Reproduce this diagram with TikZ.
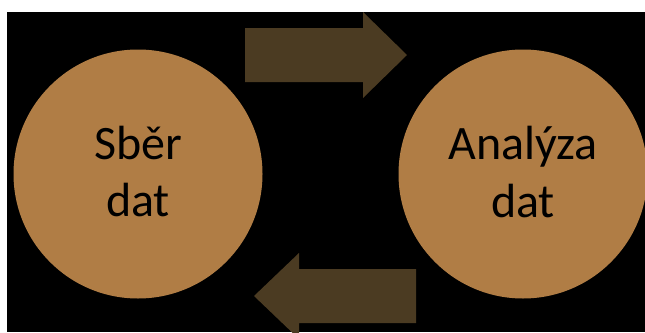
\documentclass[tikz,border=0pt]{standalone}
\usepackage{fontspec}
\setmainfont{Carlito}
\definecolor{blobfill}{HTML}{B07D45}
\definecolor{arrowfill}{HTML}{4B3B22}
\begin{document}
\begin{tikzpicture}[x=1pt,y=-1pt,
  blob/.style={circle,fill=blobfill,draw=none,minimum size=249pt,inner sep=0pt},
  lbl/.style={anchor=base,inner sep=0pt,text=black,font=\fontsize{48}{56}\selectfont},
  arrowshape/.style={fill=arrowfill,draw=none}]
\useasboundingbox (0,0) rectangle (645,332);
\fill[white] (0,0) rectangle (645,332);
\fill[black] (7,12) rectangle (645,332);
\begin{scope}
\clip (7,12) rectangle (645,332);
% top arrow (right-pointing)
\fill[arrowshape] (245,28) -- (363,28) -- (363,12) -- (407,55) -- (363,98) -- (363,82) -- (245,82) -- cycle;
% bottom arrow (left-pointing)
\fill[arrowshape] (416,269) -- (299,269) -- (299,253) -- (254,296) -- (299,339) -- (299,323) -- (416,323) -- cycle;
\node[blob] (sber) at (138,174) {};
\node[blob] (analyza) at (523,174) {};
\end{scope}
\node[lbl] (sberA) at (138,159) {Sběr};
\node[lbl] (sberB) at (138,216) {dat};
\node[lbl] (anaA) at (523,159) {Analýza};
\node[lbl] (anaB) at (523,217) {dat};
\end{tikzpicture}
\end{document}
